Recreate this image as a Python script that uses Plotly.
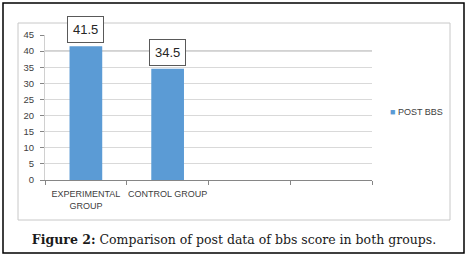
import plotly.graph_objects as go

categories = ["EXPERIMENTAL<br>GROUP", "CONTROL GROUP", " ", "  "]
post_bbs = [41.5, 34.5, None, None]
series_name = "POST BBS"
y_ticks = [0, 5, 10, 15, 20, 25, 30, 35, 40, 45]
caption = "<b>Figure 2:</b> Comparison of post data of bbs score in both groups."

W, H = 468, 258
L, R, T, B = 45, 96, 35, 78
pw, ph = W - L - R, H - T - B

def px_x(x):
    return (x - L) / pw

def px_y(y):
    return (H - B - y) / ph

bar_color = "#5B9BD5"
font_sans = "Liberation Sans, Arial, sans-serif"

fig = go.Figure()
fig.add_trace(go.Bar(
    x=categories, y=post_bbs, name=series_name,
    marker=dict(color=bar_color, line=dict(width=0)),
    width=0.4, showlegend=False,
))

annotations = []
for c, v in zip(categories, post_bbs):
    if v is None:
        continue
    annotations.append(dict(
        x=c, y=v, xref="x", yref="y", text=str(v), showarrow=False,
        yanchor="bottom", yshift=3,
        bordercolor="#595959", borderwidth=1, borderpad=5, bgcolor="white",
        font=dict(family=font_sans, size=13, color="#262626"),
    ))

# legend entry
annotations.append(dict(
    x=px_x(388), y=px_y(112), xref="paper", yref="paper",
    xanchor="left", yanchor="middle", showarrow=False,
    text=f'<span style="color:{bar_color}">■</span> {series_name}',
    font=dict(family=font_sans, size=9, color="#404040"),
))

shapes = [
    dict(type="rect", xref="paper", yref="paper",
         x0=px_x(3), x1=px_x(464), y0=px_y(253), y1=px_y(3),
         line=dict(color="black", width=1.5), layer="below"),
    dict(type="rect", xref="paper", yref="paper",
         x0=px_x(18), x1=px_x(450), y0=px_y(220), y1=px_y(23),
         line=dict(color="#c8c8c8", width=1), layer="below"),
    dict(type="line", xref="paper", yref="y", x0=0, x1=1, y0=40, y1=40,
         line=dict(color="#8c8c8c", width=1), layer="below"),
]

fig.update_layout(
    width=W, height=H,
    margin=dict(l=L, r=R, t=T, b=B),
    paper_bgcolor="white", plot_bgcolor="white",
    bargap=0.6,
    annotations=annotations, shapes=shapes,
    title=dict(text=caption, x=0.5, xanchor="center", xref="container",
               y=(H - 240) / H, yref="container", yanchor="middle",
               automargin=False,
               font=dict(family="DejaVu Serif, serif", size=12.5, color="#1a1a1a")),
    xaxis=dict(
        type="category", categoryorder="array", categoryarray=categories,
        range=[-0.5, 3.5], tickson="boundaries", ticks="outside", ticklen=4,
        tickangle=0, automargin=False, ticklabelstandoff=5,
        tickcolor="#868686", showline=True, linecolor="#868686", linewidth=1,
        showgrid=False, tickfont=dict(family=font_sans, size=9, color="#404040"),
    ),
    yaxis=dict(
        range=[0, 45], tickvals=y_ticks, ticks="outside", ticklen=4,
        automargin=False,
        tickcolor="#868686", showline=True, linecolor="#d0d0d0",
        showgrid=True, gridcolor="#d9d9d9", gridwidth=1, zeroline=False,
        tickfont=dict(family=font_sans, size=9.5, color="#404040"),
        ticklabelstandoff=4,
    ),
)

fig.write_html("out.html", config={"displayModeBar": False},
               post_script="document.body.style.margin='0';document.body.style.overflow='hidden';")
